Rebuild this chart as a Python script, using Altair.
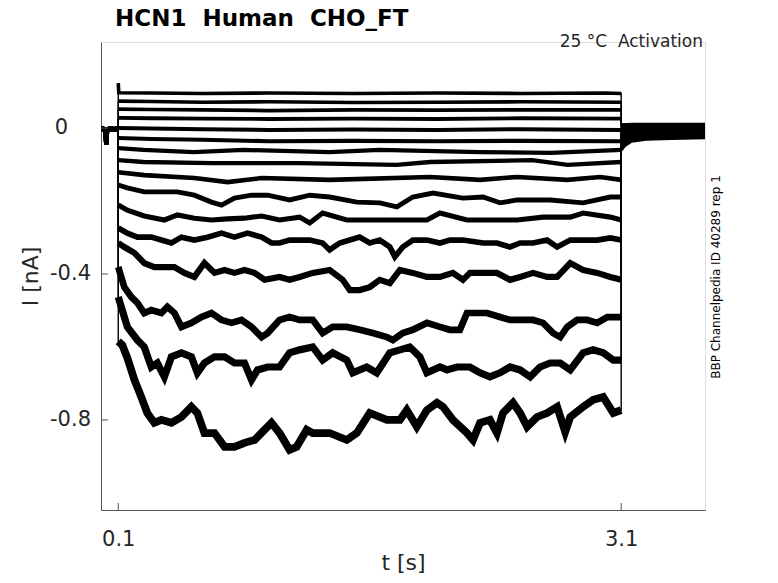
import altair as alt
import pandas as pd

title_text = "HCN1\u00a0 Human\u00a0 CHO_FT"
note_text = "25 °C\u00a0 Activation"
side_text = "BBP Channelpedia ID 40289 rep 1"
x_title = "t [s]"
y_title = "I [nA]"
xtick_vals = [0.1, 3.1]
xtick_text = ["0.1", "3.1"]
ytick_vals = [-0.8, -0.4, 0.0]
ytick_text = ["-0.8", "-0.4", "0"]

# holding period before the step (shared by all sweeps)
pre_t = [0.0, 0.015, 0.026, 0.029, 0.032, 0.05, 0.075, 0.1]
pre_I = [-0.002, -0.003, -0.006, -0.045, -0.004, -0.002, -0.003, -0.002]

# tail after the step
tail_t = [3.1, 3.12, 3.16, 3.25, 3.4, 3.6]
tail_I = [
    [0.009, 0.009, 0.010, 0.010, 0.010, 0.010],
    [0.008, 0.008, 0.009, 0.009, 0.009, 0.009],
    [0.007, 0.007, 0.008, 0.008, 0.008, 0.008],
    [0.006, 0.006, 0.006, 0.007, 0.007, 0.007],
    [0.004, 0.004, 0.005, 0.005, 0.005, 0.005],
    [0.002, 0.002, 0.003, 0.003, 0.003, 0.003],
    [-0.001, 0.000, 0.000, 0.000, 0.001, 0.001],
    [-0.005, -0.004, -0.003, -0.003, -0.002, -0.002],
    [-0.010, -0.008, -0.006, -0.006, -0.005, -0.005],
    [-0.016, -0.013, -0.010, -0.009, -0.008, -0.008],
    [-0.022, -0.018, -0.014, -0.012, -0.011, -0.011],
    [-0.028, -0.024, -0.018, -0.015, -0.014, -0.014],
    [-0.036, -0.030, -0.022, -0.018, -0.017, -0.017],
    [-0.044, -0.036, -0.027, -0.022, -0.021, -0.020],
    [-0.052, -0.042, -0.032, -0.026, -0.025, -0.024],
    [-0.060, -0.048, -0.036, -0.030, -0.028, -0.026],
]

# during the step (sweeps 1..16, top to bottom)
step_t = [
    [0.1, 0.103, 0.3, 0.6, 1.0, 1.5, 2.0, 2.5, 3.0, 3.1],
    [0.1, 0.3, 0.6, 1.0, 1.5, 2.0, 2.5, 3.1],
    [0.1, 0.3, 0.6, 1.0, 1.5, 2.0, 2.5, 3.1],
    [0.1, 0.3, 0.6, 1.0, 1.5, 2.0, 2.5, 3.1],
    [0.1, 0.3, 0.6, 1.0, 1.5, 2.0, 2.5, 3.1],
    [0.1, 0.3, 0.6, 1.0, 1.5, 2.0, 2.5, 3.1],
    [0.1, 0.25, 0.55, 0.85, 1.36, 1.66, 2.26, 2.68, 3.1],
    [0.1, 0.25, 0.66, 1.18, 1.76, 1.96, 2.57, 2.78, 3.1],
    [0.1, 0.255, 0.554, 0.752, 0.955, 1.361, 1.960, 2.258, 2.479, 2.778, 2.975, 3.1],
    [0.100, 0.154, 0.255, 0.453, 0.554, 0.656, 0.716, 0.793, 0.895, 0.991, 1.122, 1.242,
     1.361, 1.523, 1.660, 1.762, 1.857, 1.977, 2.156, 2.276, 2.377, 2.479, 2.676, 2.873,
     3.035, 3.100],
    [0.100, 0.154, 0.255, 0.375, 0.453, 0.554, 0.656, 0.752, 0.853, 0.955, 1.062, 1.182,
     1.242, 1.319, 1.463, 1.618, 1.780, 1.941, 2.019, 2.180, 2.317, 2.479, 2.634, 2.796,
     2.873, 3.035, 3.100],
    [0.100, 0.154, 0.214, 0.297, 0.357, 0.417, 0.477, 0.554, 0.632, 0.716, 0.793, 0.871,
     0.955, 1.014, 1.062, 1.122, 1.242, 1.319, 1.361, 1.421, 1.481, 1.540, 1.600, 1.660,
     1.720, 1.750, 1.797, 1.857, 1.941, 2.019, 2.078, 2.156, 2.276, 2.359, 2.437, 2.497,
     2.574, 2.658, 2.718, 2.796, 2.873, 2.957, 3.035, 3.100],
    [0.100, 0.136, 0.196, 0.255, 0.315, 0.375, 0.435, 0.494, 0.554, 0.614, 0.674, 0.734,
     0.793, 0.853, 0.913, 0.973, 1.062, 1.122, 1.182, 1.260, 1.361, 1.439, 1.481, 1.540,
     1.600, 1.660, 1.720, 1.780, 1.857, 1.941, 2.019, 2.096, 2.156, 2.198, 2.276, 2.359,
     2.437, 2.497, 2.574, 2.658, 2.718, 2.796, 2.873, 2.957, 3.035, 3.100],
    [0.100, 0.136, 0.178, 0.214, 0.255, 0.297, 0.357, 0.393, 0.435, 0.477, 0.536, 0.596,
     0.656, 0.716, 0.775, 0.835, 0.895, 0.955, 0.991, 1.062, 1.122, 1.182, 1.260, 1.319,
     1.379, 1.463, 1.541, 1.618, 1.702, 1.738, 1.797, 1.857, 1.941, 2.019, 2.078, 2.138,
     2.180, 2.240, 2.300, 2.377, 2.437, 2.515, 2.574, 2.634, 2.694, 2.736, 2.778, 2.837,
     2.897, 2.957, 3.017, 3.077, 3.100],
    [0.100, 0.154, 0.214, 0.255, 0.297, 0.333, 0.375, 0.417, 0.477, 0.536, 0.572, 0.614,
     0.674, 0.734, 0.793, 0.853, 0.895, 0.931, 0.991, 1.062, 1.122, 1.182, 1.260, 1.319,
     1.379, 1.463, 1.499, 1.582, 1.642, 1.720, 1.780, 1.839, 1.899, 1.941, 2.019, 2.061,
     2.120, 2.198, 2.258, 2.317, 2.377, 2.437, 2.497, 2.557, 2.616, 2.676, 2.736, 2.796,
     2.873, 2.933, 2.993, 3.053, 3.100],
    [0.100, 0.124, 0.154, 0.196, 0.237, 0.273, 0.315, 0.357, 0.417, 0.477, 0.536, 0.572,
     0.614, 0.674, 0.734, 0.793, 0.853, 0.913, 0.973, 1.014, 1.062, 1.122, 1.164, 1.224,
     1.260, 1.361, 1.463, 1.523, 1.600, 1.702, 1.780, 1.821, 1.881, 1.941, 2.001, 2.037,
     2.096, 2.180, 2.216, 2.258, 2.317, 2.359, 2.395, 2.455, 2.497, 2.539, 2.598, 2.658,
     2.718, 2.766, 2.796, 2.873, 2.933, 2.993, 3.053, 3.100],
]
step_I = [
    [0.123, 0.097, 0.096, 0.095, 0.096, 0.095, 0.096, 0.095, 0.096, 0.095],
    [0.074, 0.073, 0.071, 0.072, 0.070, 0.071, 0.072, 0.071],
    [0.052, 0.051, 0.050, 0.048, 0.050, 0.049, 0.050, 0.050],
    [0.028, 0.027, 0.026, 0.025, 0.026, 0.025, 0.027, 0.026],
    [0.000, -0.001, -0.003, -0.005, -0.004, -0.005, -0.003, -0.005],
    [-0.027, -0.030, -0.032, -0.036, -0.035, -0.036, -0.035, -0.036],
    [-0.055, -0.060, -0.066, -0.060, -0.066, -0.060, -0.066, -0.068, -0.060],
    [-0.088, -0.093, -0.096, -0.096, -0.101, -0.093, -0.088, -0.101, -0.093],
    [-0.121, -0.129, -0.137, -0.148, -0.137, -0.142, -0.134, -0.142, -0.134, -0.142, -0.134, -0.142],
    [-0.156, -0.164, -0.175, -0.175, -0.184, -0.203, -0.211, -0.192, -0.184, -0.184, -0.197, -0.184,
     -0.189, -0.203, -0.205, -0.216, -0.189, -0.178, -0.192, -0.189, -0.205, -0.197, -0.197, -0.205,
     -0.189, -0.189],
    [-0.211, -0.225, -0.241, -0.252, -0.238, -0.247, -0.252, -0.249, -0.247, -0.241, -0.252, -0.244,
     -0.260, -0.233, -0.252, -0.252, -0.252, -0.252, -0.233, -0.252, -0.252, -0.252, -0.244, -0.244,
     -0.233, -0.244, -0.252],
    [-0.274, -0.288, -0.299, -0.299, -0.307, -0.315, -0.299, -0.307, -0.299, -0.288, -0.299, -0.288,
     -0.299, -0.315, -0.315, -0.307, -0.307, -0.315, -0.334, -0.315, -0.307, -0.299, -0.315, -0.307,
     -0.326, -0.353, -0.326, -0.307, -0.307, -0.315, -0.307, -0.307, -0.315, -0.315, -0.326, -0.315,
     -0.315, -0.307, -0.326, -0.307, -0.307, -0.307, -0.301, -0.307],
    [-0.315, -0.326, -0.342, -0.370, -0.381, -0.381, -0.381, -0.397, -0.408, -0.370, -0.397, -0.389,
     -0.397, -0.389, -0.397, -0.416, -0.408, -0.416, -0.408, -0.397, -0.389, -0.416, -0.444, -0.444,
     -0.436, -0.416, -0.425, -0.389, -0.397, -0.408, -0.408, -0.397, -0.416, -0.397, -0.397, -0.397,
     -0.416, -0.408, -0.397, -0.408, -0.408, -0.370, -0.389, -0.397, -0.408, -0.416],
    [-0.381, -0.436, -0.463, -0.479, -0.507, -0.499, -0.507, -0.490, -0.507, -0.545, -0.534, -0.518,
     -0.507, -0.526, -0.534, -0.526, -0.545, -0.573, -0.562, -0.526, -0.518, -0.526, -0.526, -0.562,
     -0.545, -0.545, -0.553, -0.562, -0.573, -0.581, -0.562, -0.553, -0.534, -0.545, -0.553, -0.553,
     -0.507, -0.507, -0.507, -0.518, -0.526, -0.526, -0.526, -0.534, -0.562, -0.573, -0.545, -0.526,
     -0.526, -0.534, -0.518, -0.518, -0.518],
    [-0.463, -0.545, -0.581, -0.600, -0.655, -0.644, -0.682, -0.627, -0.616, -0.627, -0.671, -0.644,
     -0.627, -0.627, -0.644, -0.644, -0.690, -0.663, -0.655, -0.655, -0.616, -0.608, -0.600, -0.636,
     -0.616, -0.636, -0.671, -0.655, -0.671, -0.616, -0.608, -0.600, -0.627, -0.671, -0.655, -0.663,
     -0.655, -0.655, -0.671, -0.682, -0.671, -0.655, -0.663, -0.682, -0.655, -0.644, -0.644, -0.663,
     -0.616, -0.608, -0.616, -0.636, -0.636],
    [-0.585, -0.595, -0.630, -0.690, -0.737, -0.781, -0.808, -0.800, -0.808, -0.792, -0.764, -0.781,
     -0.836, -0.836, -0.874, -0.874, -0.863, -0.855, -0.827, -0.808, -0.836, -0.882, -0.874, -0.827,
     -0.836, -0.836, -0.855, -0.836, -0.781, -0.800, -0.800, -0.773, -0.819, -0.773, -0.753, -0.764,
     -0.800, -0.836, -0.855, -0.808, -0.800, -0.836, -0.781, -0.753, -0.781, -0.819, -0.792, -0.781,
     -0.764, -0.833, -0.792, -0.764, -0.745, -0.737, -0.781, -0.773],
]

# peak-to-peak noise of each sweep during the step, nA
noise = [0.016, 0.016, 0.017, 0.018, 0.019, 0.020, 0.021, 0.022,
         0.024, 0.026, 0.028, 0.032, 0.036, 0.040, 0.044, 0.048]
pre_noise = 0.024
tail_noise = 0.014

rows = []
for i in range(len(step_t)):
    ts = pre_t + step_t[i] + tail_t
    vs = pre_I + step_I[i] + tail_I[i]
    segs = ["pre"] * len(pre_t) + ["step"] * len(step_t[i]) + ["tail"] * len(tail_t)
    nz = [pre_noise] * len(pre_t) + [noise[i]] * len(step_t[i]) + [tail_noise] * len(tail_t)
    for k, (tt, vv, sg, nn) in enumerate(zip(ts, vs, segs, nz)):
        rows.append({"trace": i + 1, "seg": sg, "key": f"{i + 1}-{sg}", "ord": k,
                     "t": tt, "I": vv, "noise": nn})
df = pd.DataFrame(rows)

W, H = 604, 468
xscale = alt.Scale(domain=[-0.003, 3.6], nice=False, zero=False)
yscale = alt.Scale(domain=[-1.047, 0.236], nice=False, zero=False)

xlabel_expr = " : ".join(
    [f"datum.value == {v} ? '{s}'" for v, s in zip(xtick_vals, xtick_text)] + ["''"])

AX = "#555555"
TX = "#262626"

xaxis = alt.Axis(values=xtick_vals, labelExpr=xlabel_expr, title=x_title, grid=False,
                 tickSize=0, domainColor=AX, domainWidth=1, labelFontSize=21,
                 labelColor=TX, labelPadding=18, labelFlush=False, labelOverlap=False,
                 titleFontSize=22, titleFontWeight="normal", titleColor=TX,
                 titleX=302, titleY=59, titleBaseline="alphabetic", titleAlign="center")
yaxis = alt.Axis(values=ytick_vals, labels=False, title=y_title, grid=False,
                 tickSize=0, domainColor=AX, domainWidth=1,
                 titleFontSize=22, titleFontWeight="normal",
                 titleColor=TX, titleX=-71, titleY=234, titleAngle=270,
                 titleBaseline="middle", titleAlign="center")

base = alt.Chart(df)
thin = base.mark_line(color="black", strokeWidth=1.4).encode(
    x=alt.X("t:Q", scale=xscale, axis=xaxis),
    y=alt.Y("I:Q", scale=yscale, axis=yaxis),
    detail="trace:N",
    order=alt.Order("ord:Q"),
)
thick = base.mark_line(color="black").encode(
    x=alt.X("t:Q", scale=xscale),
    y=alt.Y("I:Q", scale=yscale),
    detail="key:N",
    order=alt.Order("ord:Q"),
    size=alt.Size("noise:Q", scale=alt.Scale(domain=[0, 0.05], range=[1.5, 8]), legend=None),
)

xt = alt.Chart(pd.DataFrame({"t": xtick_vals})).mark_rule(color=AX, strokeWidth=1).encode(
    x=alt.X("t:Q", scale=xscale), y=alt.value(H), y2=alt.value(H - 7))
ytick_df = pd.DataFrame({"I": ytick_vals, "lab": ytick_text})
yt = alt.Chart(ytick_df).mark_rule(color=AX, strokeWidth=1).encode(
    y=alt.Y("I:Q", scale=yscale), x=alt.value(0), x2=alt.value(7))
# tick labels: the zero label sits further left, aligned on its digit
ylab_neg = alt.Chart(ytick_df).transform_filter("datum.I != 0").mark_text(
    align="right", baseline="middle", fontSize=21, color=TX, font="DejaVu Sans"
).encode(y=alt.Y("I:Q", scale=yscale), x=alt.value(-10), text="lab:N")
ylab_zero = alt.Chart(ytick_df).transform_filter("datum.I == 0").mark_text(
    align="right", baseline="middle", fontSize=21, color=TX, font="DejaVu Sans"
).encode(y=alt.Y("I:Q", scale=yscale), x=alt.value(-33), text="lab:N")

title = alt.Chart(pd.DataFrame({"s": [title_text]})).mark_text(
    align="left", baseline="alphabetic", fontSize=23, fontWeight="bold", color="black",
    font="DejaVu Sans"
).encode(x=alt.value(14), y=alt.value(-16), text="s:N")
note = alt.Chart(pd.DataFrame({"s": [note_text]})).mark_text(
    align="right", baseline="alphabetic", fontSize=17, color=TX, font="DejaVu Sans"
).encode(x=alt.value(602), y=alt.value(5), text="s:N")
side = alt.Chart(pd.DataFrame({"s": [side_text]})).mark_text(
    align="center", baseline="middle", fontSize=12, angle=270, color="black", font="DejaVu Sans"
).encode(x=alt.value(615), y=alt.value(235), text="s:N")

chart = alt.layer(thin, thick, xt, yt, ylab_neg, ylab_zero, title, note, side).properties(
    width=W, height=H,
    autosize=alt.AutoSizeParams(type="none"),
    padding={"left": 93, "top": 34, "right": 55, "bottom": 63},
).configure_view(stroke=None).configure(font="DejaVu Sans")

chart.save("out.html", embed_options={"renderer": "svg", "actions": False})
